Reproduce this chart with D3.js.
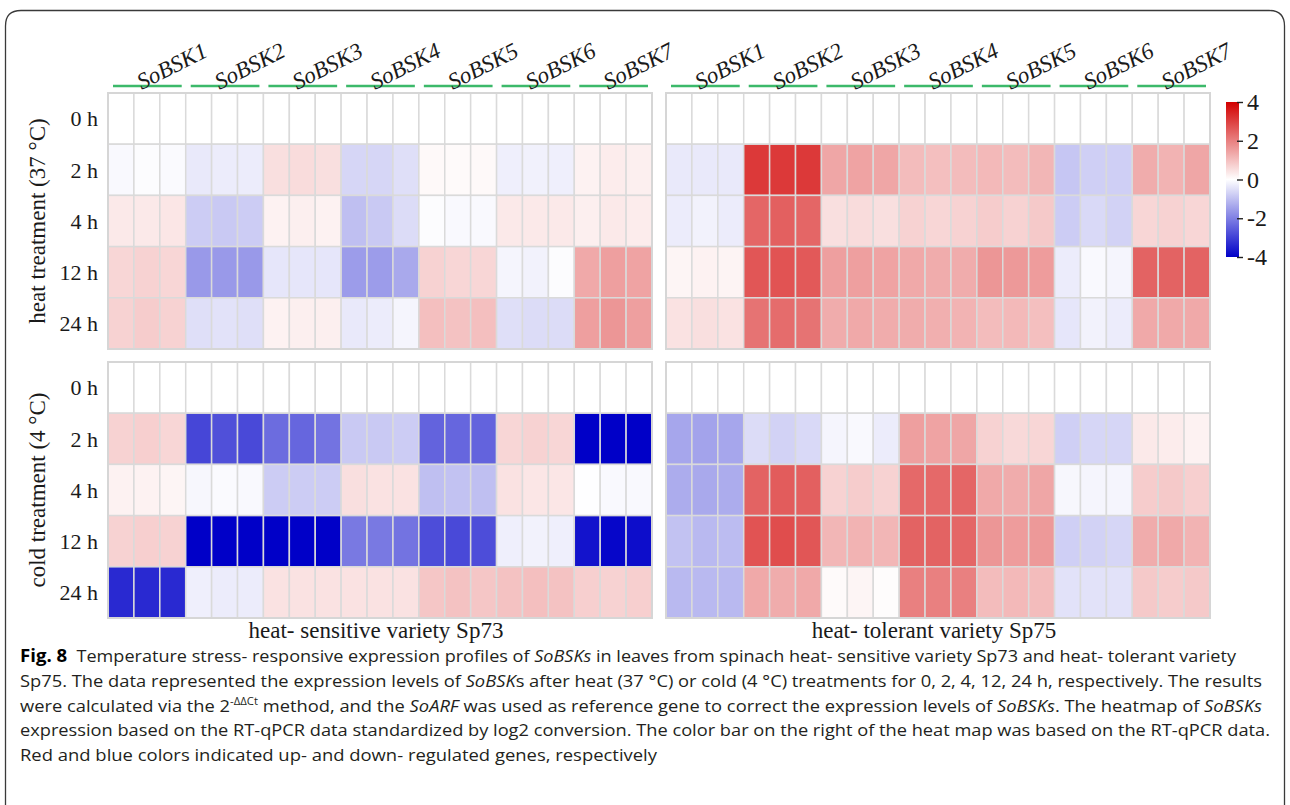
<!DOCTYPE html>
<html>
<head>
<meta charset="utf-8">
<script src="https://cdn.jsdelivr.net/npm/d3@7"></script>
<style>
  html, body { margin: 0; padding: 0; background: #fff; }
  svg { display: block; }
</style>
</head>
<body>
<svg id="fig" width="1290" height="805"></svg>
<script>
// Genes, time points and replicate columns
const genes = ["SoBSK1", "SoBSK2", "SoBSK3", "SoBSK4", "SoBSK5", "SoBSK6", "SoBSK7"];
const times = ["0 h", "2 h", "4 h", "12 h", "24 h"];
const reps = [1, 2, 3];
const legendTicks = [4, 2, 0, -2, -4];

// log2 relative expression, one row per time point, 3 replicates per gene
const heatSp73 = [
  [0,0,0, 0,0,0, 0,0,0, 0,0,0, 0,0,0, 0,0,0, 0,0,0],
  [-0.1,-0.05,-0.08, -0.35,-0.3,-0.3, 0.5,0.55,0.5, -0.65,-0.65,-0.5, 0.1,0.08,0.1, -0.25,-0.22,-0.25, 0.2,0.3,0.25],
  [0.35,0.35,0.4, -0.8,-0.85,-0.8, 0.2,0.25,0.2, -1.0,-0.85,-0.55, -0.05,-0.1,-0.1, 0.35,0.35,0.35, 0.25,0.35,0.3],
  [0.65,0.7,0.65, -1.6,-1.6,-1.6, -0.4,-0.4,-0.4, -1.55,-1.55,-1.35, 0.7,0.65,0.65, -0.15,-0.2,-0.05, 1.35,1.5,1.45],
  [0.7,0.8,0.7, -0.5,-0.45,-0.5, 0.2,0.25,0.25, -0.35,-0.3,-0.15, 1.0,0.95,1.0, -0.5,-0.55,-0.55, 1.5,1.65,1.5]
];
const heatSp75 = [
  [0,0,0, 0,0,0, 0,0,0, 0,0,0, 0,0,0, 0,0,0, 0,0,0],
  [-0.35,-0.35,-0.35, 3.1,3.1,3.1, 1.4,1.45,1.4, 1.05,1.0,1.05, 1.1,1.05,1.15, -0.9,-0.75,-0.75, 1.3,1.2,1.4],
  [-0.3,-0.2,-0.3, 2.4,2.5,2.4, 0.5,0.55,0.5, 0.7,0.65,0.7, 0.8,0.7,0.85, -0.8,-0.6,-0.7, 0.65,0.7,0.65],
  [0.15,0.2,0.18, 2.65,2.7,2.6, 1.5,1.5,1.45, 1.35,1.3,1.3, 1.65,1.6,1.55, -0.3,-0.1,-0.15, 2.45,2.45,2.45],
  [0.45,0.5,0.45, 2.2,2.3,2.2, 1.3,1.35,1.3, 1.3,1.25,1.2, 1.05,1.1,1.0, -0.4,-0.2,-0.3, 1.35,1.35,1.35]
];
const coldSp73 = [
  [0,0,0, 0,0,0, 0,0,0, 0,0,0, 0,0,0, 0,0,0, 0,0,0],
  [0.7,0.75,0.65, -2.9,-2.75,-2.85, -2.3,-2.4,-2.2, -0.85,-0.85,-0.8, -2.45,-2.4,-2.45, 0.65,0.7,0.65, -4,-4,-4],
  [0.2,0.2,0.15, -0.12,-0.08,-0.1, -0.8,-0.8,-0.8, 0.5,0.45,0.45, -1.0,-0.95,-1.0, 0.45,0.4,0.4, -0.02,-0.1,-0.1],
  [0.7,0.75,0.7, -4,-4,-4, -4,-4,-4, -2.1,-2.1,-2.2, -2.8,-2.85,-2.8, -0.25,-0.2,-0.25, -3.7,-3.9,-3.8],
  [-3.35,-3.35,-3.35, -0.25,-0.3,-0.3, 0.45,0.45,0.45, 0.45,0.45,0.45, 0.9,0.95,0.9, 0.95,1.0,0.95, 0.75,0.7,0.75]
];
const coldSp75 = [
  [0,0,0, 0,0,0, 0,0,0, 0,0,0, 0,0,0, 0,0,0, 0,0,0],
  [-1.4,-1.45,-1.4, -0.55,-0.7,-0.6, -0.15,-0.1,-0.3, 1.5,1.45,1.4, 0.7,0.6,0.65, -0.75,-0.65,-0.65, 0.35,0.3,0.2],
  [-1.3,-1.35,-1.3, 2.45,2.55,2.5, 0.7,0.8,0.7, 2.35,2.35,2.4, 1.35,1.3,1.4, -0.12,-0.15,-0.15, 0.8,0.85,0.75],
  [-0.95,-1.1,-1.05, 2.7,2.8,2.65, 1.15,1.2,1.15, 2.45,2.45,2.4, 1.65,1.55,1.6, -0.75,-0.7,-0.65, 1.3,1.35,1.2],
  [-1.1,-1.1,-1.1, 1.35,1.3,1.35, 0.08,0.15,0.05, 2.0,2.0,2.0, 1.05,1.1,1.05, -0.45,-0.45,-0.45, 0.85,0.8,0.85]
];

const treatments = ["heat treatment (37 °C)", "cold treatment (4 °C)"];
const varieties = ["heat- sensitive variety Sp73", "heat- tolerant variety Sp75"];

const panels = [
  { data: heatSp73, col: 0, row: 0 },
  { data: heatSp75, col: 1, row: 0 },
  { data: coldSp73, col: 0, row: 1 },
  { data: coldSp75, col: 1, row: 1 }
];

const svg = d3.select("#fig");
const serif = "'Liberation Serif', 'Times New Roman', serif";
const ink = "#1a1a1a";

// Figure frame with rounded top corners
svg.append("path")
  .attr("d", "M5.5,805 V26 Q5.5,10.5 21,10.5 H1269 Q1284.5,10.5 1284.5,26 V805")
  .attr("fill", "none").attr("stroke", "#3a3a3a").attr("stroke-width", 1.3);

// Panel geometry
const panelX = [108, 666];
const panelY = [93, 362];
const panelW = 544, panelH = 256;

const columns = d3.range(genes.length * reps.length);
const x = d3.scaleBand().domain(columns).range([0, panelW]);
const y = d3.scaleBand().domain(times).range([0, panelH]);
const geneX = d3.scaleBand().domain(genes).range([0, panelW]);

const color = d3.scaleLinear()
  .domain([-4, 0, 4])
  .range(["#0000c8", "#ffffff", "#d20000"])
  .clamp(true);

panels.forEach(p => {
  const g = svg.append("g")
    .attr("transform", `translate(${panelX[p.col]},${panelY[p.row]})`);
  const cells = [];
  p.data.forEach((rowVals, i) => rowVals.forEach((v, j) => cells.push({ t: times[i], c: j, v })));
  g.selectAll("rect.cell").data(cells).join("rect")
    .attr("class", "cell")
    .attr("x", d => x(d.c))
    .attr("y", d => y(d.t))
    .attr("width", x.bandwidth())
    .attr("height", y.bandwidth())
    .attr("fill", d => color(d.v))
    .attr("stroke", "#dadada")
    .attr("stroke-width", 1.5);
  g.append("rect")
    .attr("width", panelW).attr("height", panelH)
    .attr("fill", "none").attr("stroke", "#d6d6d6").attr("stroke-width", 2);
});

// Gene headers: green bars and slanted italic names
panelX.forEach(px => {
  const g = svg.append("g").attr("transform", `translate(${px},0)`);
  g.selectAll("line.gene").data(genes).join("line")
    .attr("x1", d => geneX(d) + 5)
    .attr("x2", d => geneX(d) + geneX.bandwidth() - 4)
    .attr("y1", 86).attr("y2", 86)
    .attr("stroke", "#3cb96a").attr("stroke-width", 2.6);
  g.selectAll("text.gene").data(genes).join("text")
    .attr("class", "gene")
    .attr("x", 0).attr("y", 0)
    .attr("transform", d => `translate(${geneX(d) + geneX.bandwidth() / 2 - 5},90) rotate(-27)`)
    .attr("font-family", serif).attr("font-style", "italic")
    .attr("font-size", 23).attr("fill", ink)
    .text(d => d);
});

// Time-point row labels
panelY.forEach(py => {
  svg.append("g").attr("transform", `translate(0,${py})`)
    .selectAll("text").data(times).join("text")
    .attr("x", 98)
    .attr("y", d => y(d) + y.bandwidth() / 2)
    .attr("dy", "0.35em")
    .attr("text-anchor", "end")
    .style("font-family", serif).style("font-size", "22px").attr("fill", ink)
    .text(d => d);
});

// Treatment titles
svg.selectAll("text.treat").data(treatments).join("text")
  .attr("class", "treat")
  .attr("transform", (d, i) => `translate(45,${panelY[i] + panelH / 2}) rotate(-90)`)
  .attr("text-anchor", "middle")
  .style("font-family", serif).style("font-size", "23px").attr("fill", ink)
  .text(d => d);

// Variety titles
svg.selectAll("text.variety").data(varieties).join("text")
  .attr("class", "variety")
  .attr("x", (d, i) => panelX[i] + panelW / 2 - 4)
  .attr("y", 638)
  .attr("text-anchor", "middle")
  .style("font-family", serif).style("font-size", "23px").attr("fill", ink)
  .text(d => d);

// Colour bar
const barX = 1226, barW = 13, barTop = 102, barBot = 257;
const legendScale = d3.scaleLinear().domain([-4, 4]).range([barBot, barTop]);
const grad = svg.append("defs").append("linearGradient")
  .attr("id", "legendGrad").attr("x1", 0).attr("x2", 0).attr("y1", 1).attr("y2", 0);
grad.selectAll("stop").data(d3.range(-4, 4.01, 0.5)).join("stop")
  .attr("offset", d => (d + 4) / 8)
  .attr("stop-color", d => color(d));
svg.append("rect")
  .attr("x", barX).attr("y", barTop).attr("width", barW).attr("height", barBot - barTop)
  .attr("fill", "url(#legendGrad)");
const legendAxis = d3.axisRight(legendScale).tickValues(legendTicks).tickSize(6).tickFormat(d3.format("d"));
const ax = svg.append("g").attr("transform", `translate(${barX + barW - 2},0)`).call(legendAxis);
ax.select(".domain").remove();
ax.selectAll(".tick line").attr("stroke", "#222").attr("stroke-width", 1.4);
ax.selectAll(".tick text")
  .attr("x", 10)
  .style("font-family", serif).style("font-size", "24px").attr("fill", ink)
  .text(d => d < 0 ? "-" + Math.abs(d) : d);

// Caption
const capFont = "'Open Sans', 'Noto Sans', sans-serif";
const captionLines = [
  { w: 1216, parts: [["Fig. 8", "b"], ["  Temperature stress- responsive expression profiles of "], ["SoBSKs", "i"], [" in leaves from spinach heat- sensitive variety Sp73 and heat- tolerant variety"]] },
  { w: 1242, parts: [["Sp75. The data represented the expression levels of "], ["SoBSK", "i"], ["s after heat (37 °C) or cold (4 °C) treatments for 0, 2, 4, 12, 24 h, respectively. The results"]] },
  { w: 1242, parts: [["were calculated via the 2"], ["-ΔΔCt", "sup"], [" method, and the "], ["SoARF", "i"], [" was used as reference gene to correct the expression levels of "], ["SoBSKs", "i"], [". The heatmap of "], ["SoBSKs", "i"]] },
  { w: 1250, parts: [["expression based on the RT-qPCR data standardized by log2 conversion. The color bar on the right of the heat map was based on the RT-qPCR data."]] },
  { w: 637, parts: [["Red and blue colors indicated up- and down- regulated genes, respectively"]] }
];
const cap = svg.append("g");
captionLines.forEach((line, i) => {
  const t = cap.append("text")
    .attr("x", 20).attr("y", 662 + i * 24.8)
    .style("font-family", capFont).style("font-size", "17px").attr("fill", "#231f20")
    .attr("textLength", line.w).attr("lengthAdjust", "spacingAndGlyphs")
    .attr("xml:space", "preserve");
  line.parts.forEach(([s, f]) => {
    const ts = t.append("tspan").text(s);
    if (f === "b") ts.attr("font-weight", 700).attr("fill", "#000").style("font-size", "17.5px");
    if (f === "i") ts.attr("font-style", "italic");
    if (f === "sup") ts.style("font-size", "10.5px").attr("dy", -7);
    if (i === 2 && s === " method, and the ") ts.attr("dy", 7);
  });
});
</script>
</body>
</html>
